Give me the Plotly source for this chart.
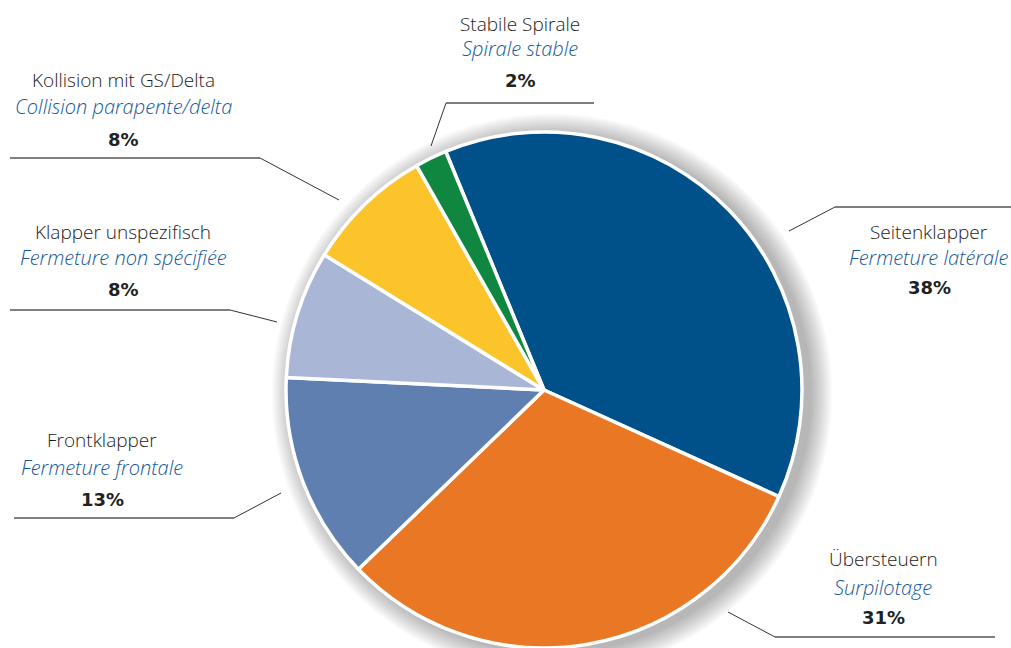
import plotly.graph_objects as go

# Accident causes, share in percent (clockwise from the top)
labels_de = ["Seitenklapper", "Übersteuern", "Frontklapper",
             "Klapper unspezifisch", "Kollision mit GS/Delta", "Stabile Spirale"]
labels_fr = ["Fermeture latérale", "Surpilotage", "Fermeture frontale",
             "Fermeture non spécifiée", "Collision parapente/delta", "Spirale stable"]
shares = [38, 31, 13, 8, 8, 2]
colors = ["#005089", "#ea7723", "#5f7fb0", "#aab6d5", "#fbc42b", "#0f8741"]

W, H = 1011, 648
CX, CY, R = 544, 390, 258  # pie centre and radius in pixels


def px_x(x):
    return x / W


def px_y(y):
    return 1 - y / H


fig = go.Figure()
fig.add_trace(go.Pie(
    labels=labels_de,
    values=shares,
    sort=False,
    direction="clockwise",
    rotation=-22.4,
    marker=dict(colors=colors, line=dict(color="white", width=3.5)),
    textinfo="none",
    hovertemplate="%{label}<br>%{value}%<extra></extra>",
    domain=dict(x=[px_x(CX - R), px_x(CX + R)], y=[px_y(CY + R), px_y(CY - R)]),
    showlegend=False,
))

shapes = []
# soft drop shadow behind the pie, cast towards the lower right
sx, sy = CX + 8, CY + 4
for k in range(11):
    r = R + 2 + 2 * k
    shapes.append(dict(
        type="circle", xref="paper", yref="paper", layer="below",
        x0=px_x(sx - r), x1=px_x(sx + r), y0=px_y(sy + r), y1=px_y(sy - r),
        fillcolor="rgba(0,0,0,0.027)", line=dict(width=0),
    ))

# leader lines: (diagonal start, elbow, end of horizontal)
leaders = [
    [(789, 231), (835, 207), (1011, 207)],
    [(728, 612), (775, 637), (995, 637)],
    [(281, 493), (234, 518), (14, 518)],
    [(277, 322), (230, 310), (10, 310)],
    [(339, 200), (260, 158), (10, 158)],
    [(431, 146), (446, 103), (594, 103)],
]
for (a, b, c) in leaders:
    shapes.append(dict(type="line", xref="paper", yref="paper",
                       x0=px_x(a[0]), y0=px_y(a[1]), x1=px_x(b[0]), y1=px_y(b[1]),
                       line=dict(color="#333333", width=1)))
    shapes.append(dict(type="line", xref="paper", yref="paper",
                       x0=px_x(b[0]), y0=px_y(b[1]), x1=px_x(c[0]), y1=px_y(c[1]),
                       line=dict(color="#555555", width=1.5)))

# label block positions: centre x, y of German line, French line, percentage
label_pos = [
    (929, 232, 257, 287),
    (883, 559, 587, 617),
    (102, 440, 467, 499),
    (123, 232, 257, 289),
    (123, 80, 107, 140),
    (520, 24, 48, 80),
]

annotations = []
for de, fr, v, (x, y1, y2, y3) in zip(labels_de, labels_fr, shares, label_pos):
    common = dict(xref="paper", yref="paper", x=px_x(x), xanchor="center",
                  yanchor="middle", showarrow=False)
    annotations.append(dict(text=de, y=px_y(y1),
                            font=dict(family="Open Sans", size=19, weight=300,
                                      color="#1c1c1c"), **common))
    annotations.append(dict(text=fr, y=px_y(y2),
                            font=dict(family="Open Sans", size=20, weight=300,
                                      style="italic", color="#14589a"), **common))
    annotations.append(dict(text=f"{v}%", y=px_y(y3),
                            font=dict(family="DejaVu Sans", size=18, weight="bold",
                                      color="#222222"), **common))

fig.update_layout(
    width=W, height=H,
    margin=dict(l=0, r=0, t=0, b=0),
    paper_bgcolor="white",
    plot_bgcolor="white",
    shapes=shapes,
    annotations=annotations,
)

fig.write_html("out.html")
